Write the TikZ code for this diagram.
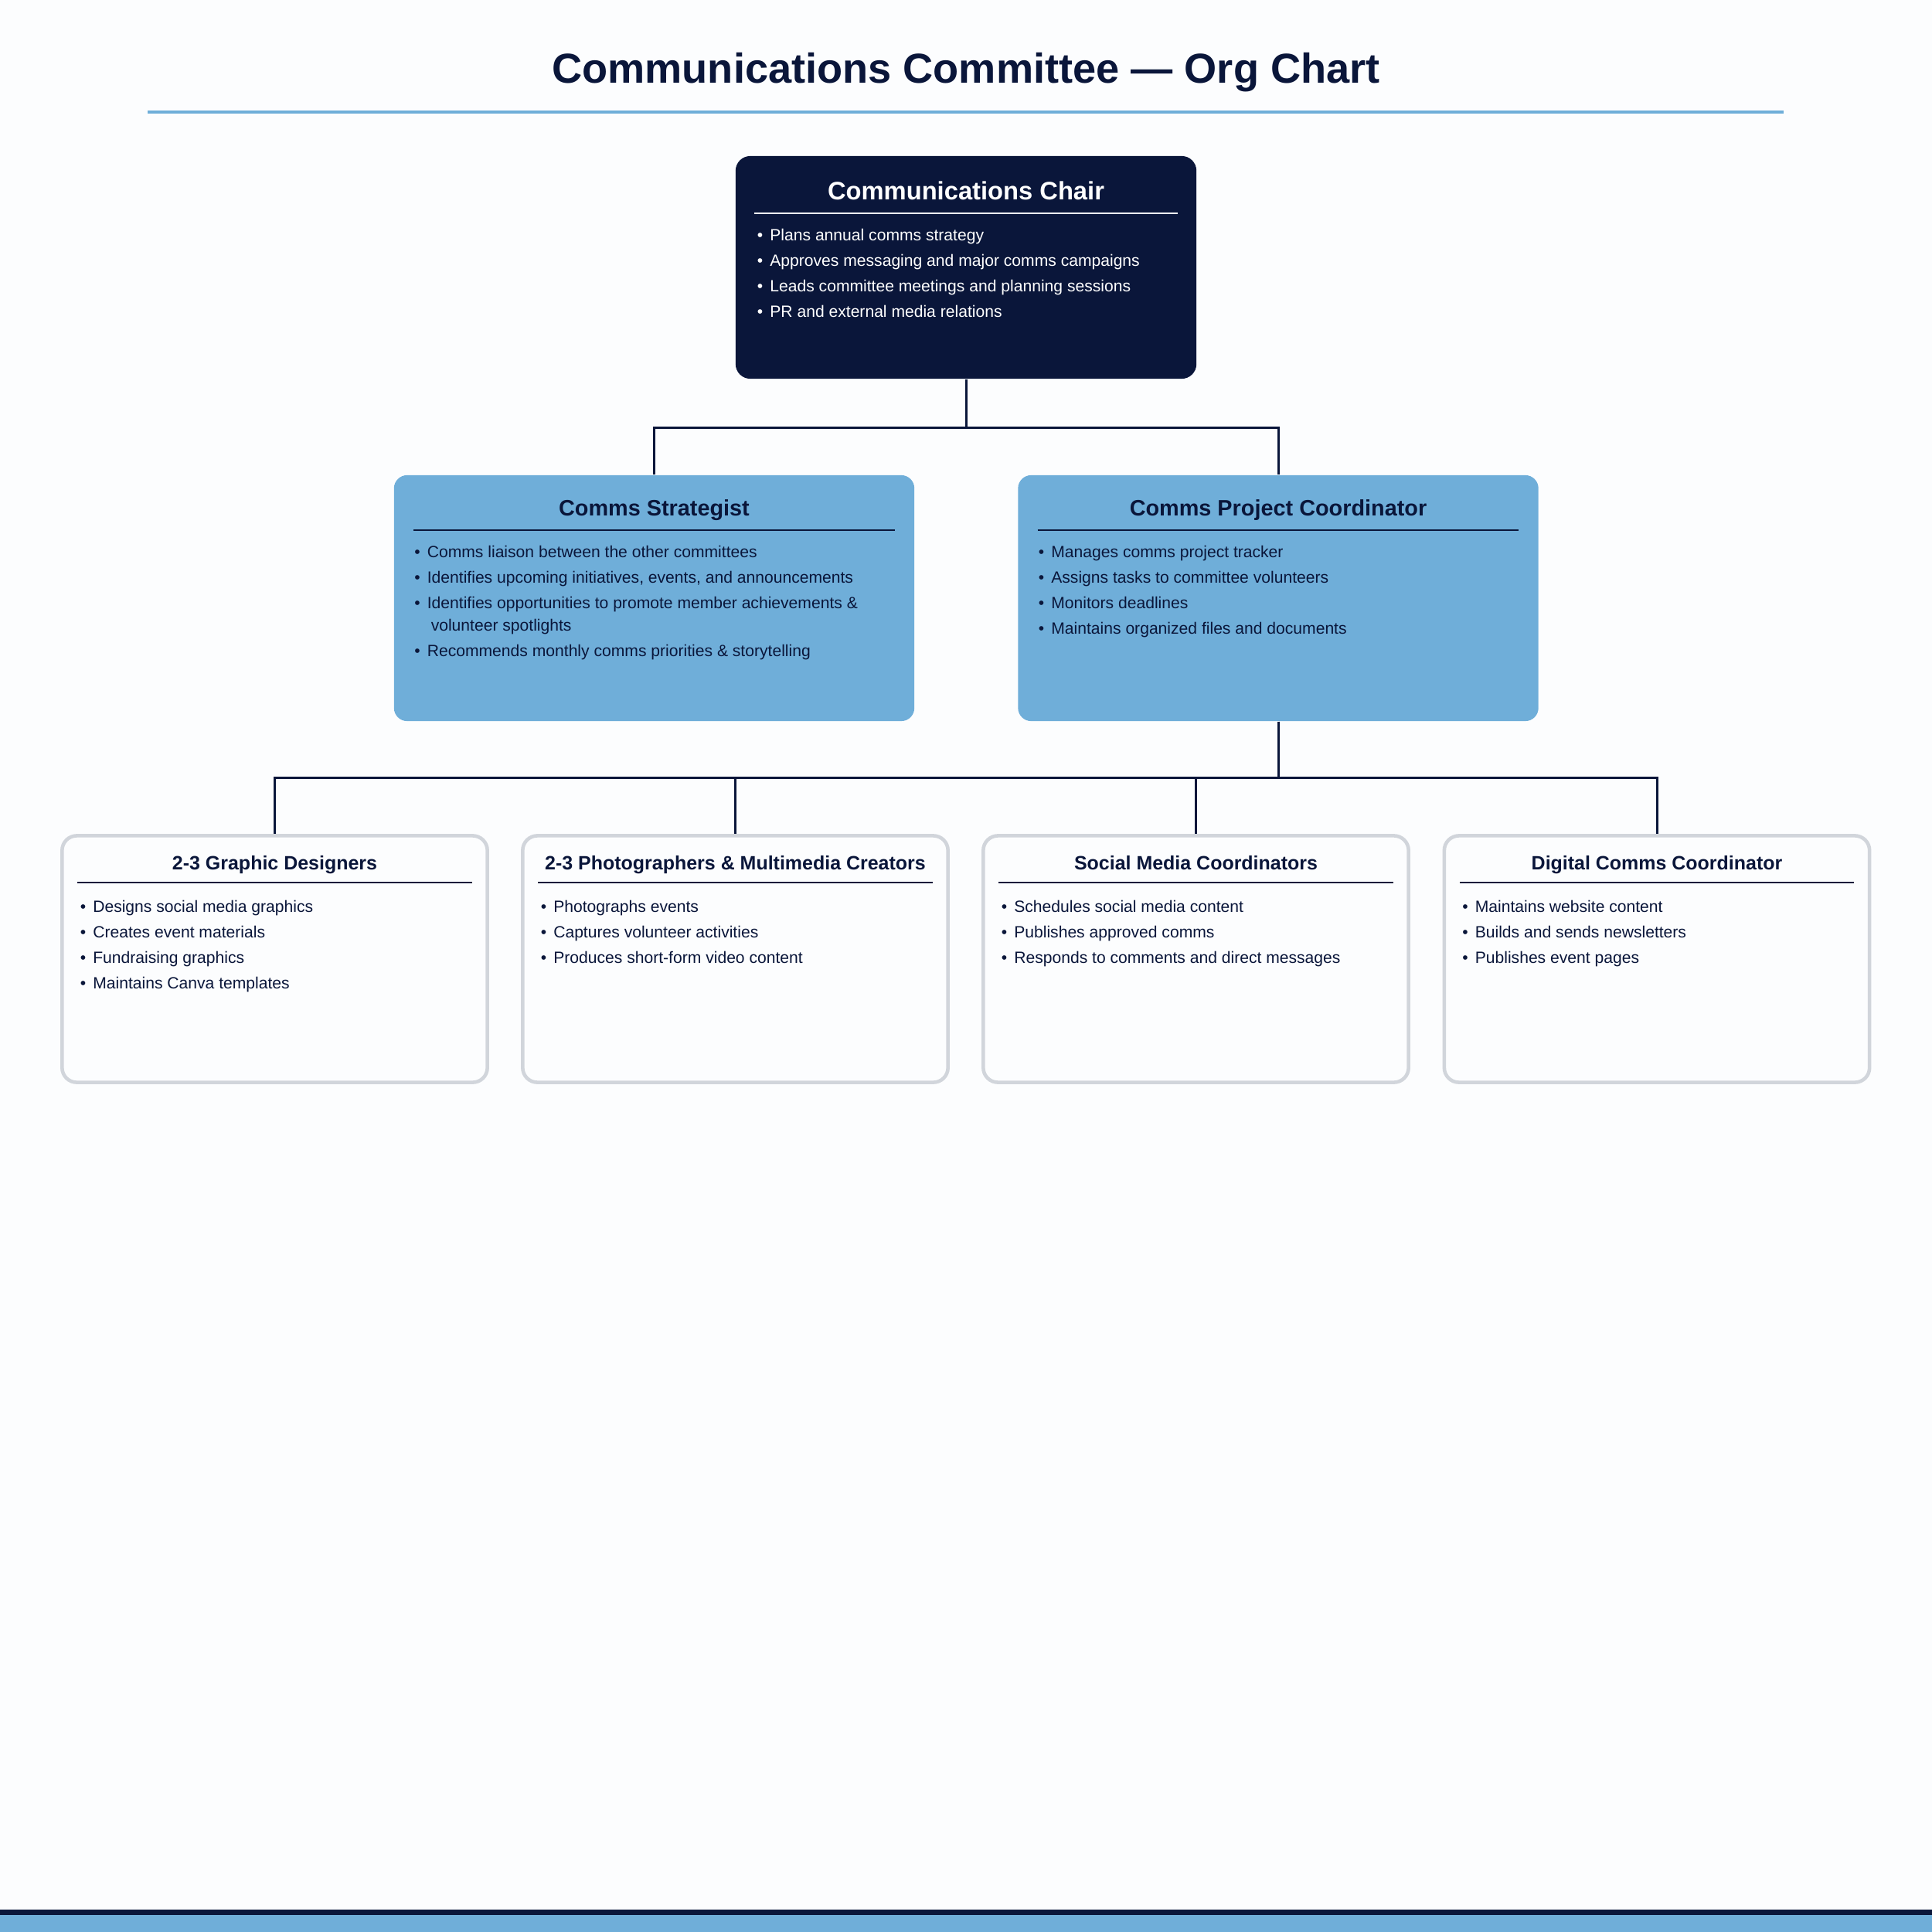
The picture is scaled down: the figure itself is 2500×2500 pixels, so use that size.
\documentclass[tikz,border=0pt]{standalone}
\usepackage{fontspec}
\setmainfont{Liberation Sans}
\usepackage{xcolor}
\usetikzlibrary{positioning}
\definecolor{navy}{HTML}{0A163A}
\definecolor{sky}{HTML}{6FAED9}
\definecolor{edgegray}{HTML}{D1D5DB}
\definecolor{paper}{HTML}{FCFDFE}
\newcommand{\bul}{\textbullet\hspace{2.6pt}}
\newcommand{\contd}{\hspace*{6.1pt}}

\begin{document}
\begin{tikzpicture}[x=0.01cm, y=-0.01cm,
  chairbox/.style={fill=navy, rounded corners=0.19cm, minimum width=5.96cm, minimum height=2.88cm, inner sep=0pt},
  leadbox/.style={fill=sky, rounded corners=0.17cm, minimum width=6.73cm, minimum height=3.18cm, inner sep=0pt},
  teambox/.style={draw=edgegray, line width=1.3pt, fill=paper, rounded corners=0.19cm, minimum width=5.5cm, minimum height=3.19cm, inner sep=0pt},
  boxtitle/.style={anchor=base, inner sep=0pt, font=\bfseries\fontsize{#1}{#1}\selectfont},
  bullets/.style={anchor=north west, align=left, inner sep=0pt, font=\fontsize{6}{9.4}\selectfont},
  link/.style={navy, line width=0.85pt}]
\useasboundingbox (0,0) rectangle (2500,2500);
\fill[paper] (0,0) rectangle (2500,2500);

\node[anchor=base, font=\bfseries\fontsize{15.4}{18}\selectfont, text=navy] (title) at (1250,108) {Communications Committee — Org Chart};
\draw[sky, line width=1.4pt] (191,145) -- (2308,145);

% chair
\node[chairbox] (chair) at (1250,346) {};
\node[boxtitle=9.3, text=white] (chairT) at ([yshift=-0.57cm]chair.north) {Communications Chair};
\draw[white, line width=0.55pt] ([xshift=0.25cm,yshift=-0.75cm]chair.north west) -- ([xshift=-0.25cm,yshift=-0.75cm]chair.north east);
\node[bullets, text=white] (chairL) at ([xshift=0.28cm,yshift=-0.945cm]chair.north west)
  {\bul Plans annual comms strategy\\ \bul Approves messaging and major comms campaigns\\ \bul Leads committee meetings and planning sessions\\ \bul PR and external media relations};

% second row
\node[leadbox] (strat) at (846.5,774) {};
\node[boxtitle=8.2, text=navy] (stratT) at ([yshift=-0.535cm]strat.north) {Comms Strategist};
\draw[navy, line width=0.55pt] ([xshift=0.26cm,yshift=-0.72cm]strat.north west) -- ([xshift=-0.26cm,yshift=-0.72cm]strat.north east);
\node[bullets, text=navy] (stratL) at ([xshift=0.265cm,yshift=-0.915cm]strat.north west)
  {\bul Comms liaison between the other committees\\ \bul Identifies upcoming initiatives, events, and announcements\\ \bul Identifies opportunities to promote member achievements \&\\[-1.2pt] \contd volunteer spotlights\\ \bul Recommends monthly comms priorities \& storytelling};

\node[leadbox] (pcoord) at (1654,774) {};
\node[boxtitle=8.2, text=navy] (pcoordT) at ([yshift=-0.535cm]pcoord.north) {Comms Project Coordinator};
\draw[navy, line width=0.55pt] ([xshift=0.26cm,yshift=-0.72cm]pcoord.north west) -- ([xshift=-0.26cm,yshift=-0.72cm]pcoord.north east);
\node[bullets, text=navy] (pcoordL) at ([xshift=0.265cm,yshift=-0.915cm]pcoord.north west)
  {\bul Manages comms project tracker\\ \bul Assigns tasks to committee volunteers\\ \bul Monitors deadlines\\ \bul Maintains organized files and documents};

% teams
\node[teambox] (gd) at (355.5,1241) {};
\node[boxtitle=7.1, text=navy] (gdT) at ([yshift=-0.46cm]gd.north) {2-3 Graphic Designers};
\draw[navy, line width=0.55pt] ([xshift=0.22cm,yshift=-0.63cm]gd.north west) -- ([xshift=-0.22cm,yshift=-0.63cm]gd.north east);
\node[bullets, text=navy] (gdL) at ([xshift=0.25cm,yshift=-0.855cm]gd.north west)
  {\bul Designs social media graphics\\ \bul Creates event materials\\ \bul Fundraising graphics\\ \bul Maintains Canva templates};

\node[teambox] (photo) at (951.5,1241) {};
\node[boxtitle=7.1, text=navy] (photoT) at ([yshift=-0.46cm]photo.north) {2-3 Photographers \& Multimedia Creators};
\draw[navy, line width=0.55pt] ([xshift=0.22cm,yshift=-0.63cm]photo.north west) -- ([xshift=-0.22cm,yshift=-0.63cm]photo.north east);
\node[bullets, text=navy] (photoL) at ([xshift=0.25cm,yshift=-0.855cm]photo.north west)
  {\bul Photographs events\\ \bul Captures volunteer activities\\ \bul Produces short-form video content};

\node[teambox] (social) at (1547.5,1241) {};
\node[boxtitle=7.1, text=navy] (socialT) at ([yshift=-0.46cm]social.north) {Social Media Coordinators};
\draw[navy, line width=0.55pt] ([xshift=0.22cm,yshift=-0.63cm]social.north west) -- ([xshift=-0.22cm,yshift=-0.63cm]social.north east);
\node[bullets, text=navy] (socialL) at ([xshift=0.25cm,yshift=-0.855cm]social.north west)
  {\bul Schedules social media content\\ \bul Publishes approved comms\\ \bul Responds to comments and direct messages};

\node[teambox] (digital) at (2144,1241) {};
\node[boxtitle=7.1, text=navy] (digitalT) at ([yshift=-0.46cm]digital.north) {Digital Comms Coordinator};
\draw[navy, line width=0.55pt] ([xshift=0.22cm,yshift=-0.63cm]digital.north west) -- ([xshift=-0.22cm,yshift=-0.63cm]digital.north east);
\node[bullets, text=navy] (digitalL) at ([xshift=0.25cm,yshift=-0.855cm]digital.north west)
  {\bul Maintains website content\\ \bul Builds and sends newsletters\\ \bul Publishes event pages};

% connectors
\draw[link] (chair.south) -- ++(0,63) -| (strat.north);
\draw[link] (chair.south) -- ++(0,63) -| (pcoord.north);
\foreach \t in {gd,photo,social,digital}
  \draw[link] (pcoord.south) -- ++(0,73) -| (\t.north);

\fill[navy] (0,2471) rectangle (2500,2478);
\fill[sky] (0,2478) rectangle (2500,2500);
\end{tikzpicture}
\end{document}
